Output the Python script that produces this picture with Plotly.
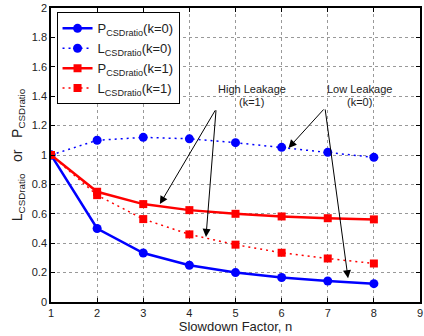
import plotly.graph_objects as go

n = [1, 2, 3, 4, 5, 6, 7, 8]
p_k0 = [1.0, 0.5, 0.333, 0.25, 0.2, 0.167, 0.143, 0.125]
l_k0 = [1.0, 1.10, 1.12, 1.11, 1.084, 1.052, 1.018, 0.984]
p_k1 = [1.0, 0.75, 0.666, 0.625, 0.60, 0.582, 0.57, 0.562]
l_k1 = [1.0, 0.727, 0.564, 0.46, 0.39, 0.335, 0.296, 0.262]

x_ticks = [1, 2, 3, 4, 5, 6, 7, 8, 9]
y_ticks = [0, 0.2, 0.4, 0.6, 0.8, 1.0, 1.2, 1.4, 1.6, 1.8, 2.0]
y_tick_text = ["0", "0.2", "0.4", "0.6", "0.8", "1", "1.2", "1.4", "1.6", "1.8", "2"]

FONT = "Liberation Sans, Arial, sans-serif"
DOT = "2px,4px"

fig = go.Figure()
fig.add_trace(go.Scatter(x=n, y=p_k0, mode="lines+markers",
                         name="P<sub>CSDratio</sub>(k=0)",
                         line=dict(color="#0000ff", width=2.5),
                         marker=dict(symbol="circle", size=9, color="#0000ff")))
fig.add_trace(go.Scatter(x=n, y=l_k0, mode="lines+markers",
                         name="L<sub>CSDratio</sub>(k=0)",
                         line=dict(color="#0000ff", width=1.5, dash=DOT),
                         marker=dict(symbol="circle", size=9, color="#0000ff")))
fig.add_trace(go.Scatter(x=n, y=p_k1, mode="lines+markers",
                         name="P<sub>CSDratio</sub>(k=1)",
                         line=dict(color="#ff0000", width=2.5),
                         marker=dict(symbol="square", size=8, color="#ff0000")))
fig.add_trace(go.Scatter(x=n, y=l_k1, mode="lines+markers",
                         name="L<sub>CSDratio</sub>(k=1)",
                         line=dict(color="#ff0000", width=1.5, dash=DOT),
                         marker=dict(symbol="square", size=8, color="#ff0000")))

# Annotation labels
labels = [
    dict(x=5.35, y=1.45, text="High Leakage"),
    dict(x=5.35, y=1.36, text="(k=1)"),
    dict(x=7.68, y=1.45, text="Low Leakage"),
    dict(x=7.68, y=1.36, text="(k=0)"),
]
annotations = []
for lb in labels:
    annotations.append(dict(x=lb["x"], y=lb["y"], text=lb["text"], showarrow=False,
                            xref="x", yref="y", font=dict(size=11, color="#222", family=FONT)))

arrows = [
    ((4.58, 1.314), (3.36, 0.666)),
    ((4.58, 1.314), (4.36, 0.443)),
    ((6.94, 1.32), (6.15, 1.048)),
    ((6.94, 1.32), (7.44, 0.162)),
]
for (tx, ty), (hx, hy) in arrows:
    annotations.append(dict(x=hx, y=hy, ax=tx, ay=ty, xref="x", yref="y",
                            axref="x", ayref="y", text="", showarrow=True,
                            arrowhead=2, arrowsize=1.6, arrowwidth=1,
                            arrowcolor="black", standoff=0))

fig.update_layout(
    width=424, height=336,
    margin=dict(l=51, r=2, t=7, b=34),
    paper_bgcolor="white", plot_bgcolor="white",
    font=dict(family=FONT, size=11, color="#222"),
    showlegend=True,
    legend=dict(x=0.015, y=0.985, xanchor="left", yanchor="top",
                bgcolor="white", bordercolor="black", borderwidth=1,
                font=dict(size=13, family=FONT), tracegroupgap=0,
                itemwidth=30),
    annotations=annotations,
    xaxis=dict(range=[1, 9], tickvals=x_ticks, showgrid=True,
               gridcolor="#999", griddash="dot", gridwidth=1,
               showline=True, linecolor="black", linewidth=1.5, mirror="allticks",
               ticks="inside", ticklen=4, tickcolor="black", zeroline=False,
               title=dict(text="Slowdown Factor, n", font=dict(size=13), standoff=4),
               tickfont=dict(size=11)),
    yaxis=dict(range=[0, 2], tickvals=y_ticks, ticktext=y_tick_text, showgrid=True,
               gridcolor="#999", griddash="dot", gridwidth=1,
               showline=True, linecolor="black", linewidth=1.5, mirror="allticks",
               ticks="inside", ticklen=4, tickcolor="black", zeroline=False,
               title=dict(text="L<sub>CSDratio</sub>   or   P<sub>CSDratio</sub>",
                          font=dict(size=14), standoff=6),
               tickfont=dict(size=11)),
)

fig.write_html("out.html")
